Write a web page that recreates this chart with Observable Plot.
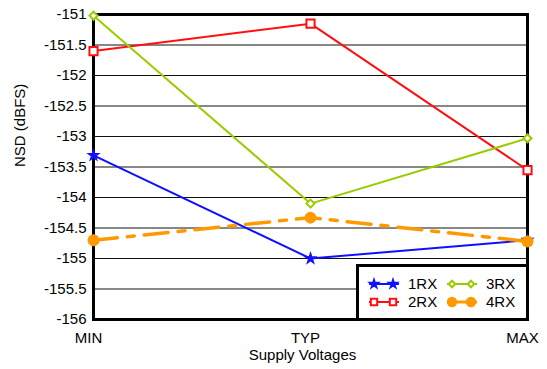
<!DOCTYPE html>
<html>
<head>
<meta charset="utf-8">
<script src="https://cdn.jsdelivr.net/npm/d3@7"></script>
<script src="https://cdn.jsdelivr.net/npm/@observablehq/plot@0.6"></script>
<style>
  html, body { margin: 0; padding: 0; background: #fff; }
  #wrap { position: relative; width: 547px; height: 369px; font-family: "Liberation Sans", Arial, sans-serif; }
  #legend { position: absolute; left: 356px; top: 264px; }
</style>
</head>
<body>
<div id="wrap"><div id="chart"></div><div id="legend"></div></div>
<script>
const categories = ["MIN", "TYP", "MAX"];
const seriesNames = ["1RX", "2RX", "3RX", "4RX"];
const rx1 = [-153.31, -155.0, -154.7];
const rx2 = [-151.6, -151.15, -153.55];
const rx3 = [-151.02, -154.1, -153.03];
const rx4 = [-154.7, -154.33, -154.72];
const yTicks = [-156, -155.5, -155, -154.5, -154, -153.5, -153, -152.5, -152, -151.5, -151];
const xTitle = "Supply Voltages";
const yTitle = "NSD (dBFS)";

const colors = {"1RX": "#1010ff", "2RX": "#ff1010", "3RX": "#99cc00", "4RX": "#ff9900"};
const symbols = {"1RX": "star", "2RX": "square", "3RX": "diamond2", "4RX": "circle"};
const fills = {"1RX": "#1010ff", "2RX": "white", "3RX": "white", "4RX": "#ff9900"};
const radii = {"1RX": 2.6, "2RX": 4.6, "3RX": 3.6, "4RX": 5};
const legendRadii = {"1RX": 2.4, "2RX": 3.6, "3RX": 3.0, "4RX": 4.2};
const dashes = {"1RX": null, "2RX": null, "3RX": null, "4RX": "24,10,7,10"};
const widths = {"1RX": 2, "2RX": 2, "3RX": 2, "4RX": 3.5};

const allValues = [rx1, rx2, rx3, rx4];
const data = [];
seriesNames.forEach((s, i) => categories.forEach((c, j) => data.push({series: s, cat: c, value: allValues[i][j]})));

const lineMarks = seriesNames.map(s => Plot.line(data.filter(d => d.series === s), {
  x: "cat", y: "value", stroke: colors[s], strokeWidth: widths[s], strokeDasharray: dashes[s]
}));
const dotMarks = seriesNames.map(s => Plot.dot(data.filter(d => d.series === s), {
  x: "cat", y: "value", symbol: () => symbols[s], r: radii[s], stroke: colors[s], strokeWidth: 2, fill: fills[s]
}));

const chart = Plot.plot({
  width: 547,
  height: 369,
  marginLeft: 93,
  marginRight: 20,
  marginTop: 14,
  marginBottom: 50,
  style: {fontFamily: "'Liberation Sans', Arial, sans-serif", fontSize: "15px", color: "#000", background: "white"},
  x: {type: "point", domain: categories, padding: 0},
  y: {domain: [-156, -151]},
  symbol: {type: "identity"},
  marks: [
    Plot.ruleY(yTicks, {stroke: "#111", strokeWidth: 1}),
    Plot.axisY({ticks: yTicks, tickSize: 0, tickPadding: 7, tickFormat: d => String(d), fontSize: 15, label: null}),
    Plot.axisX({tickSize: 0, tickPadding: 13, fontSize: 15, dx: -5, label: null}),
    Plot.text([xTitle], {frameAnchor: "bottom", text: d => d, dy: 36, fontSize: 15, lineAnchor: "middle", dx: -8}),
    Plot.text([yTitle], {frameAnchor: "left", text: d => d, dx: -73, rotate: -90, fontSize: 15, lineAnchor: "middle"}),
    ...lineMarks,
    Plot.frame({stroke: "black", strokeWidth: 3}),
    ...dotMarks
  ]
});
document.getElementById("chart").appendChild(chart);

// Legend
const lg = d3.select("#legend").append("svg").attr("width", 173).attr("height", 58);
lg.append("rect").attr("x", 1.5).attr("y", 1.5).attr("width", 170).attr("height", 54)
  .attr("fill", "white").attr("stroke", "black").attr("stroke-width", 3);
const order = [["1RX", 0, 0], ["3RX", 1, 0], ["2RX", 0, 1], ["4RX", 1, 1]];
order.forEach(([s, col, row]) => {
  const x0 = 13 + col * 78, y0 = 20 + row * 18;
  const g = lg.append("g");
  g.append("line").attr("x1", x0).attr("x2", x0 + 30).attr("y1", y0).attr("y2", y0)
    .attr("stroke", colors[s]).attr("stroke-width", widths[s] > 2 ? 3 : 2);
  const sym = {star: d3.symbolStar, square: d3.symbolSquare, diamond2: d3.symbolDiamond2, circle: d3.symbolCircle}[symbols[s]];
  [x0 + 5, x0 + 24].forEach(cx => {
    g.append("path").attr("d", d3.symbol(sym, legendRadii[s] * legendRadii[s] * Math.PI)())
      .attr("transform", `translate(${cx},${y0})`)
      .attr("fill", fills[s]).attr("stroke", colors[s]).attr("stroke-width", 2);
  });
  g.append("text").attr("x", x0 + 39).attr("y", y0).attr("dy", "0.36em")
    .attr("font-size", 15).attr("font-family", "'Liberation Sans', Arial, sans-serif").text(s);
});
</script>
</body>
</html>
